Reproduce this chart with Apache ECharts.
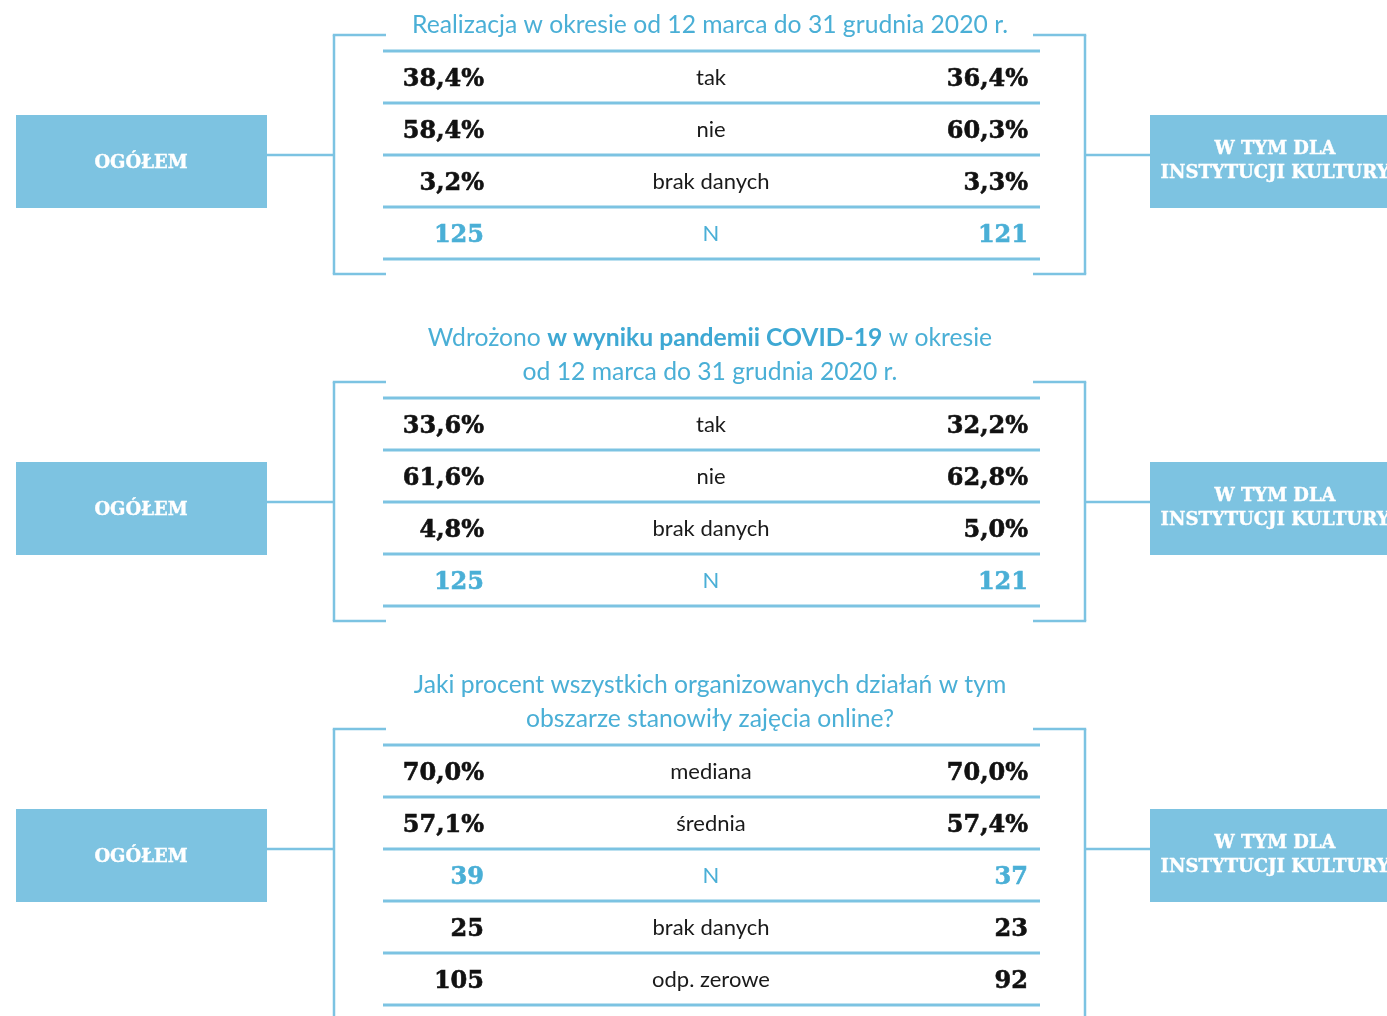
<!DOCTYPE html>
<html>
<head>
<meta charset="utf-8">
<script src="https://cdn.jsdelivr.net/npm/echarts@6/dist/echarts.min.js"></script>
<style>html,body{margin:0;padding:0;background:#fff}#c{width:1387px;height:1016px}</style>
</head>
<body>
<div id="c"></div>
<script>
// ---- data ----
const leftBoxLabel = 'OGÓŁEM';
const rightBoxLabel = ['W TYM DLA', 'INSTYTUCJI KULTURY'];

const title1 = [['Realizacja w okresie od 12 marca do 31 grudnia 2020 r.']];
const rowLabels1 = ['tak', 'nie', 'brak danych', 'N'];
const ogolem1 = ['38,4%', '58,4%', '3,2%', '125'];
const kultura1 = ['36,4%', '60,3%', '3,3%', '121'];
const nRow1 = 3;

const title2 = [['Wdrożono ', '*w wyniku pandemii COVID-19', ' w okresie'], ['od 12 marca do 31 grudnia 2020 r.']];
const rowLabels2 = ['tak', 'nie', 'brak danych', 'N'];
const ogolem2 = ['33,6%', '61,6%', '4,8%', '125'];
const kultura2 = ['32,2%', '62,8%', '5,0%', '121'];
const nRow2 = 3;

const title3 = [['Jaki procent wszystkich organizowanych działań w tym'], ['obszarze stanowiły zajęcia online?']];
const rowLabels3 = ['mediana', 'średnia', 'N', 'brak danych', 'odp. zerowe'];
const ogolem3 = ['70,0%', '57,1%', '39', '25', '105'];
const kultura3 = ['70,0%', '57,4%', '37', '23', '92'];
const nRow3 = 2;

// ---- style / layout ----
const LINE = '#7cc3e2';
const BOX = '#7dc3e1';
const TITLE = '#4aafd6';
const NCOL = '#4aafd6';
const SERIF = '"DejaVu Serif", serif';
const SANS = 'Lato, "Open Sans", sans-serif';

const sections = [
  {title: title1, labels: rowLabels1, left: ogolem1, right: kultura1, n: nRow1, top: 51, open: false},
  {title: title2, labels: rowLabels2, left: ogolem2, right: kultura2, n: nRow2, top: 398, open: false},
  {title: title3, labels: rowLabels3, left: ogolem3, right: kultura3, n: nRow3, top: 745, open: true}
];

const ROW_H = 52;
const TL = 383, TR = 1040;      // table line extents
const BL = 334, BR = 1085;      // bracket verticals
const g = [];

function line(x1, y1, x2, y2, w) {
  g.push({type: 'line', shape: {x1, y1, x2, y2}, style: {stroke: LINE, lineWidth: w}, silent: true});
}
function text(t, x, y, align, font, fill, sw) {
  const st = {text: t, x, y, align, verticalAlign: 'middle', font, fill};
  if (sw) { st.stroke = fill; st.lineWidth = sw; }
  g.push({type: 'text', style: st, silent: true});
}

sections.forEach(s => {
  const top = s.top;
  const nRows = s.labels.length;
  const bottomLine = top + nRows * ROW_H;
  const bTop = top - 16;
  const bBot = s.open ? 1030 : bottomLine + 15;

  // title
  const lines = s.title;
  lines.forEach((parts, i) => {
    const y = top - 26 - (lines.length - 1 - i) * 34;
    const rich = parts.map(p => p.startsWith('*') ? '{b|' + p.slice(1) + '}' : '{a|' + p + '}').join('');
    g.push({type: 'text', silent: true, style: {
      text: rich, x: 710, y, align: 'center', verticalAlign: 'middle',
      rich: {
        a: {font: '24.7px ' + SANS, fill: TITLE},
        b: {font: 'bold 24.7px ' + SANS, fill: '#3ea8d3'}
      }
    }});
  });

  // brackets
  line(BL, bTop, BL, bBot, 2.5);
  line(BL - 1.2, bTop, 386, bTop, 2.5);
  if (!s.open) line(BL - 1.2, bBot, 386, bBot, 2.5);
  line(BR, bTop, BR, bBot, 2.5);
  line(1033, bTop, BR + 1.2, bTop, 2.5);
  if (!s.open) line(1033, bBot, BR + 1.2, bBot, 2.5);

  // table lines
  for (let i = 0; i <= nRows; i++) line(TL, top + i * ROW_H, TR, top + i * ROW_H, 3);

  // rows
  s.labels.forEach((lab, i) => {
    const y = top + i * ROW_H + 27;
    const isN = i === s.n;
    const col = isN ? NCOL : '#111';
    text(s.left[i], 484, y + 2, 'right', 'bold 24px ' + SERIF, col, 0.6);
    text(lab, 711, y, 'center', '22px ' + SANS, isN ? NCOL : '#1a1a1a');
    text(s.right[i], 1028, y + 2, 'right', 'bold 24px ' + SERIF, col, 0.6);
  });

  // boxes + connectors
  const cy = top + 104;
  g.push({type: 'rect', shape: {x: 16, y: top + 64, width: 251, height: 93}, style: {fill: BOX}, silent: true});
  g.push({type: 'rect', shape: {x: 1150, y: top + 64, width: 240, height: 93}, style: {fill: BOX}, silent: true});
  line(267, cy, BL, cy, 2.5);
  line(BR, cy, 1150, cy, 2.5);
  text(leftBoxLabel, 141, top + 112, 'center', 'bold 18px ' + SERIF, '#fff', 0.4);
  text(rightBoxLabel[0], 1275, top + 98, 'center', 'bold 18px ' + SERIF, '#fff', 0.4);
  text(rightBoxLabel[1], 1275, top + 122, 'center', 'bold 18px ' + SERIF, '#fff', 0.4);
});

const chart = echarts.init(document.getElementById('c'), null, {renderer: 'canvas'});
chart.setOption({backgroundColor: '#fff', animation: false, graphic: g});
</script>
</body>
</html>
